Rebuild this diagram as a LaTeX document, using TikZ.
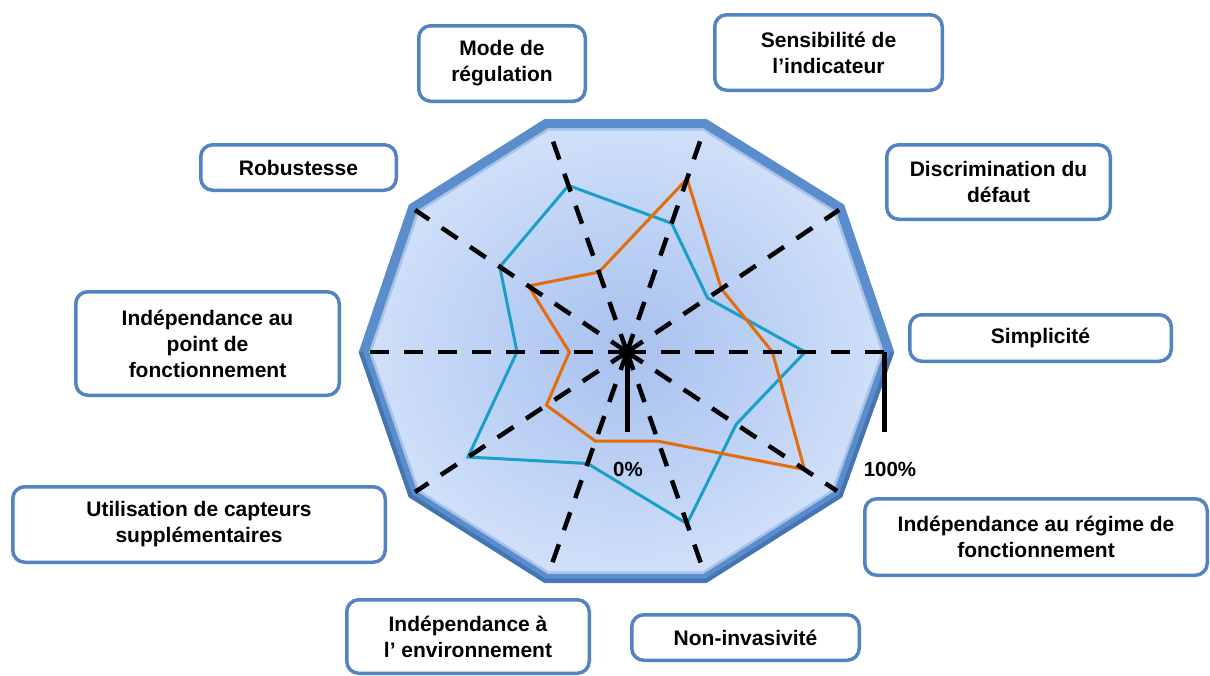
\documentclass[tikz,border=0pt]{standalone}
\usepackage{fontspec}
\setmainfont{Liberation Sans}
\usetikzlibrary{calc}
\definecolor{boxblue}{HTML}{5383C0}
\definecolor{dcenter}{HTML}{A8C1EE}
\definecolor{dmid}{HTML}{BFD3F5}
\definecolor{dedge}{HTML}{E0EBFD}
\definecolor{bordblue}{HTML}{5B8CCB}
\definecolor{bordlight}{HTML}{A6C3EC}
\definecolor{borddark}{HTML}{4574B3}
\definecolor{cyanline}{HTML}{1A9FC9}
\definecolor{orangeline}{HTML}{E46C0A}
\pgfdeclareradialshading{decashade}{\pgfpoint{0bp}{0bp}}{color(0bp)=(dcenter); color(15bp)=(dmid); color(33bp)=(dedge); color(50bp)=(dedge)}
\tikzset{
  lbl/.style={draw=boxblue, line width=3.5, rounded corners=12, fill=white, align=center,
    font=\bfseries\fontsize{21}{26}\selectfont, inner sep=0},
  pct/.style={font=\bfseries\fontsize{20.5}{24}\selectfont, inner sep=0},
  axisline/.style={line width=4.5, dash pattern=on 19 off 15},
  serie/.style={line width=3, line join=miter}
}
\begin{document}
\begin{tikzpicture}[x=1pt,y=-1pt]
\clip (0,0) rectangle (1210,675);
\fill[white] (0,0) rectangle (1210,675);
% centre and border vertices
\coordinate (C) at (627,352);
\coordinate (P0) at (889,352);
\coordinate (P1) at (840,208);
\coordinate (P2) at (705,124);
\coordinate (P3) at (546,124);
\coordinate (P4) at (413,208);
\coordinate (P5) at (364,352);
\coordinate (P6) at (413,494);
\coordinate (P7) at (546,578);
\coordinate (P8) at (705,578);
\coordinate (P9) at (838,494);
% axis end points
\coordinate (A0) at (889,352);
\coordinate (A1) at (839,210);
\coordinate (A2) at (704,130);
\coordinate (A3) at (549,130);
\coordinate (A4) at (415,210);
\coordinate (A5) at (365,352);
\coordinate (A6) at (415,492);
\coordinate (A7) at (548,575);
\coordinate (A8) at (705,575);
\coordinate (A9) at (837,491);
% decagon
\shade[shading=decashade] (P0) -- (P1) -- (P2) -- (P3) -- (P4) -- (P5) -- (P6) -- (P7) -- (P8) -- (P9) -- cycle;
\draw[line width=10, draw=bordblue, line join=miter] (P0) -- (P1) -- (P2) -- (P3) -- (P4) -- (P5) -- (P6) -- (P7) -- (P8) -- (P9) -- cycle;
\draw[line width=4, draw=borddark, line join=miter] ($(C)!1.012!(P5)$) -- ($(C)!1.012!(P6)$) -- ($(C)!1.012!(P7)$) -- ($(C)!1.012!(P8)$) -- ($(C)!1.012!(P9)$) -- ($(C)!1.012!(P0)$);
\draw[line width=2.5, draw=bordlight, line join=miter] ($(C)!0.976!(P0)$) -- ($(C)!0.976!(P1)$) -- ($(C)!0.976!(P2)$) -- ($(C)!0.976!(P3)$) -- ($(C)!0.976!(P4)$) -- ($(C)!0.976!(P5)$) -- ($(C)!0.976!(P6)$) -- ($(C)!0.976!(P7)$) -- ($(C)!0.976!(P8)$) -- ($(C)!0.976!(P9)$) -- cycle;
% data series
\draw[serie, cyanline] ($(C)!0.68!(A0)$) -- ($(C)!0.38!(A1)$) -- ($(C)!0.58!(A2)$) -- ($(C)!0.75!(A3)$) -- ($(C)!0.60!(A4)$) -- ($(C)!0.42!(A5)$) -- ($(C)!0.75!(A6)$) -- ($(C)!0.50!(A7)$) -- ($(C)!0.77!(A8)$) -- ($(C)!0.52!(A9)$) -- cycle;
\draw[serie, orangeline] ($(C)!0.555!(A0)$) -- ($(C)!0.445!(A1)$) -- ($(C)!0.78!(A2)$) -- ($(C)!0.36!(A3)$) -- ($(C)!0.465!(A4)$) -- ($(C)!0.22!(A5)$) -- ($(C)!0.38!(A6)$) -- ($(C)!0.40!(A7)$) -- ($(C)!0.40!(A8)$) -- ($(C)!0.845!(A9)$) -- cycle;
% dashed axes
\foreach \i in {0,...,9} { \draw[axisline] (C) -- (A\i); }
% scale marks
\coordinate (Z0) at (627,432);
\coordinate (H0) at (884,352);
\coordinate (H1) at (884,432);
\draw[line width=5] (C) -- (Z0);
\draw[line width=5] (H0) -- (H1);
\draw[line width=2] (C) ellipse [x radius=6, y radius=4];
\node[pct] (p0) at (628,469) {0\%};
\node[pct] (p100) at (890,469) {100\%};
% labels
\node[lbl, minimum width=166.5, minimum height=75.5] (mode) at (502,63.5) {Mode de\\régulation};
\node[lbl, minimum width=227.5, minimum height=75.5] (sens) at (828.5,52.5) {Sensibilité de\\l’indicateur};
\node[lbl, minimum width=195.5, minimum height=45.5] (rob) at (298.5,167.5) {Robustesse};
\node[lbl, minimum width=223.5, minimum height=74.5] (disc) at (998.5,182) {Discrimination du\\défaut};
\node[lbl, minimum width=263.5, minimum height=103.5] (ipf) at (207.5,343.5) {Indépendance au\\point de\\fonctionnement};
\node[lbl, minimum width=261.5, minimum height=46.5] (simp) at (1040.5,338) {Simplicité};
\node[lbl, minimum width=372.5, minimum height=75.5] (util) at (199,524.5) {Utilisation de capteurs\\supplémentaires};
\node[lbl, minimum width=342.5, minimum height=76.5] (irf) at (1036,537) {Indépendance au régime de\\fonctionnement};
\node[lbl, minimum width=242.5, minimum height=73.5] (ienv) at (468,636.5) {Indépendance à\\l’ environnement};
\node[lbl, minimum width=227.5, minimum height=45.5] (ninv) at (745.5,637.5) {Non-invasivité};
\end{tikzpicture}
\end{document}
